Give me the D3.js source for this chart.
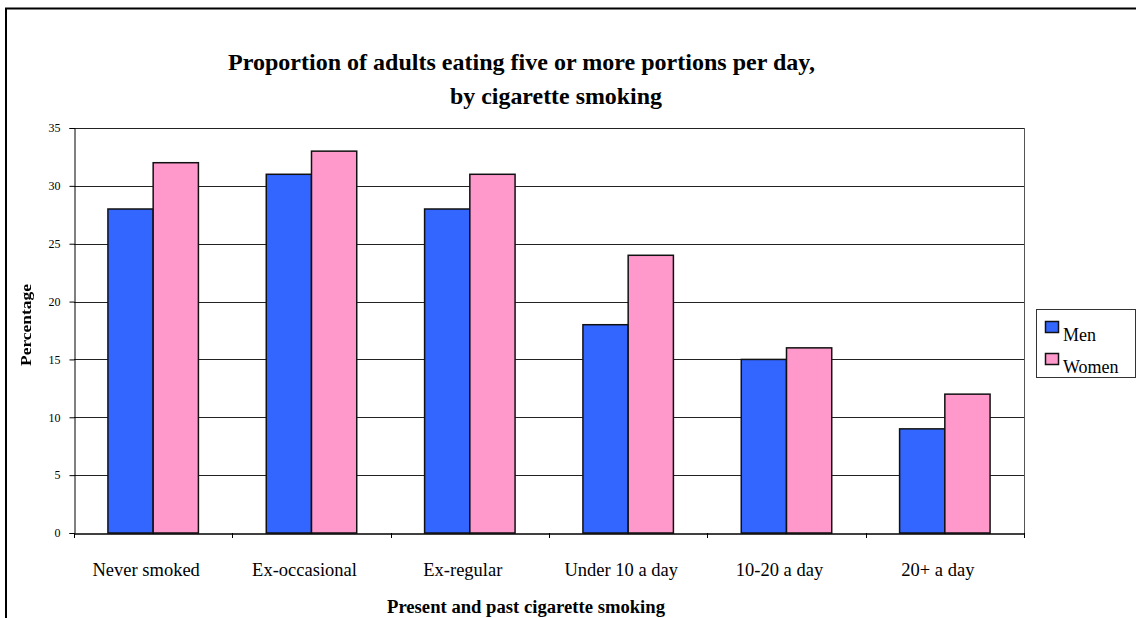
<!DOCTYPE html>
<html>
<head>
<meta charset="utf-8">
<script src="https://cdn.jsdelivr.net/npm/d3@7"></script>
<style>
  html, body { margin: 0; padding: 0; background: #fff; }
  svg { display: block; }
  svg text { font-family: "Times New Roman", "Liberation Serif", Tinos, serif; }
</style>
</head>
<body>
<svg id="chart" width="1136" height="618"></svg>
<script>
// Data
const categories = ["Never smoked", "Ex-occasional", "Ex-regular", "Under 10 a day", "10-20 a day", "20+ a day"];
const seriesNames = ["Men", "Women"];
const menValues = [28, 31, 28, 18, 15, 9];
const womenValues = [32, 33, 31, 24, 16, 12];
const yTicks = [0, 5, 10, 15, 20, 25, 30, 35];
const seriesColors = ["#3366FF", "#FF99CC"];

const svg = d3.select("#chart");
const W = 1136, H = 618;
const serif = '"Times New Roman", "Liberation Serif", Tinos, serif';

// Plot area
const plot = { left: 74, top: 128, right: 1024, bottom: 533 };

const x = d3.scaleBand()
  .domain(categories)
  .range([plot.left, plot.right])
  .paddingInner(0)
  .paddingOuter(0);

// 150% gap between clusters: bars occupy 2/(2+1.5) of each band
const groupFrac = 2 / 3.5;
const xs = d3.scaleBand()
  .domain(seriesNames)
  .range([0, x.bandwidth() * groupFrac]);
const groupOffset = x.bandwidth() * (1 - groupFrac) / 2;

const y = d3.scaleLinear().domain([0, 35]).range([plot.bottom, plot.top]);

// Outer frame (top and left edges)
svg.append("line").attr("x1", 5).attr("x2", W).attr("y1", 8.5).attr("y2", 8.5)
  .attr("stroke", "#000").attr("stroke-width", 2);
svg.append("line").attr("x1", 6).attr("x2", 6).attr("y1", 8).attr("y2", H)
  .attr("stroke", "#000").attr("stroke-width", 2);

// Title
const title = svg.append("text")
  .style("font-family", serif)
  .attr("font-weight", "bold").attr("font-size", 23).attr("fill", "#000");
title.append("tspan").attr("x", 228).attr("y", 70)
  .attr("textLength", 587).attr("lengthAdjust", "spacingAndGlyphs")
  .text("Proportion of adults eating five or more portions per day,");
title.append("tspan").attr("x", 450).attr("y", 104)
  .attr("textLength", 212).attr("lengthAdjust", "spacingAndGlyphs")
  .text("by cigarette smoking");

// Gridlines
svg.append("g")
  .selectAll("line")
  .data(yTicks.filter(d => d > 0))
  .join("line")
  .attr("x1", plot.left).attr("x2", plot.right)
  .attr("y1", d => Math.round(y(d)) + 0.5).attr("y2", d => Math.round(y(d)) + 0.5)
  .attr("stroke", "#222").attr("stroke-width", 1);

// Right edge of plot area
svg.append("line")
  .attr("x1", plot.right + 0.5).attr("x2", plot.right + 0.5)
  .attr("y1", plot.top).attr("y2", plot.bottom)
  .attr("stroke", "#555").attr("stroke-width", 1);

// Bars
const data = categories.map((c, i) => ({ cat: c, vals: [menValues[i], womenValues[i]] }));
const groups = svg.append("g").selectAll("g")
  .data(data)
  .join("g")
  .attr("transform", d => `translate(${x(d.cat) + groupOffset},0)`);
groups.selectAll("rect")
  .data(d => d.vals.map((v, j) => ({ name: seriesNames[j], value: v, j })))
  .join("rect")
  .attr("x", d => xs(d.name))
  .attr("width", xs.bandwidth())
  .attr("y", d => y(d.value))
  .attr("height", d => y(0) - y(d.value))
  .attr("fill", d => seriesColors[d.j])
  .attr("stroke", "#111")
  .attr("stroke-width", 1.5);

// Y axis
const yAxis = d3.axisLeft(y).tickValues(yTicks).tickSize(5).tickPadding(9);
const gy = svg.append("g")
  .attr("transform", `translate(${plot.left + 0.5},0)`)
  .call(yAxis);
gy.select(".domain").attr("stroke", "#000");
gy.selectAll(".tick line").attr("stroke", "#000");
gy.selectAll(".tick text")
  .style("font-family", serif)
  .attr("font-size", 12).attr("fill", "#000");

// X axis
const xAxis = d3.axisBottom(x).tickSize(0).tickPadding(29);
const gx = svg.append("g")
  .attr("transform", `translate(0,${plot.bottom + 0.5})`)
  .call(xAxis);
gx.select(".domain").attr("stroke", "#000").attr("stroke-width", 1.5);
gx.selectAll(".tick text")
  .style("font-family", serif)
  .attr("dx", -7)
  .attr("font-size", 18.5).attr("fill", "#000");
// Category boundary ticks
svg.append("g").selectAll("line")
  .data(categories.map(c => x(c)).concat([plot.right]))
  .join("line")
  .attr("x1", d => Math.round(d) + 0.5).attr("x2", d => Math.round(d) + 0.5)
  .attr("y1", plot.bottom).attr("y2", plot.bottom + 5)
  .attr("stroke", "#000");

// Axis titles
svg.append("text")
  .style("font-family", serif)
  .attr("x", 387).attr("y", 612.5)
  .attr("font-weight", "bold").attr("font-size", 18)
  .attr("textLength", 278).attr("lengthAdjust", "spacingAndGlyphs")
  .text("Present and past cigarette smoking");

const defs = svg.append("defs");
defs.append("filter").attr("id", "soft")
  .append("feGaussianBlur").attr("stdDeviation", 0.7);
svg.append("text")
  .style("font-family", serif)
  .attr("transform", "translate(31,325) rotate(-90)")
  .attr("text-anchor", "middle")
  .attr("font-weight", "bold").attr("font-size", 15)
  .attr("textLength", 82).attr("lengthAdjust", "spacingAndGlyphs")
  .attr("filter", "url(#soft)")
  .text("Percentage");

// Legend
const legend = svg.append("g");
legend.append("rect")
  .attr("x", 1036.5).attr("y", 309.5).attr("width", 99).attr("height", 68)
  .attr("fill", "#fff").attr("stroke", "#333");
const items = legend.selectAll("g.item")
  .data(seriesNames)
  .join("g").attr("class", "item")
  .attr("transform", (d, i) => `translate(0,${i * 32})`);
items.append("rect")
  .attr("x", 1045.5).attr("y", 321.5).attr("width", 13).attr("height", 11)
  .attr("fill", (d, i) => seriesColors[i]).attr("stroke", "#111").attr("stroke-width", 1.5);
items.append("text")
  .style("font-family", serif)
  .attr("x", 1063).attr("y", 341)
  .attr("font-size", 18).attr("fill", "#000")
  .text(d => d);
</script>
</body>
</html>
